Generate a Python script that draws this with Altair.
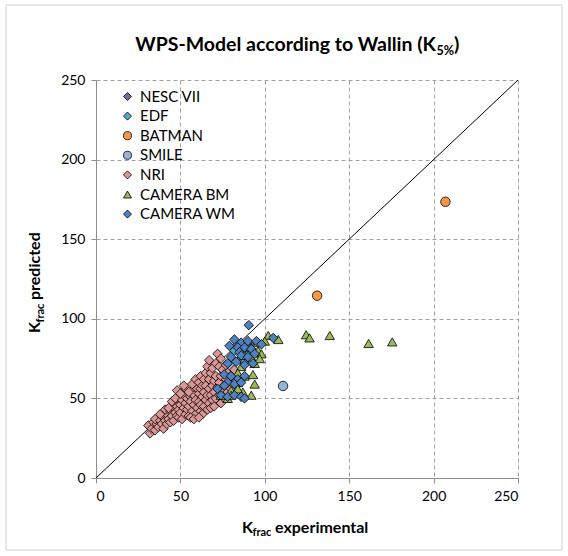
import altair as alt
import pandas as pd

# ---------------- data ----------------
series = ["NESC VII", "EDF", "BATMAN", "SMILE", "NRI", "CAMERA BM", "CAMERA WM"]
colors = ["#8064A2", "#4BACC6", "#F79646", "#95B3D7", "#D99694", "#9BBB59", "#4F81BD"]
shapes = ["diamond", "diamond", "circle", "circle", "diamond", "triangle-up", "diamond"]

nesc_x = [86, 91]
nesc_y = [79, 84]

edf_x = [82, 86, 88, 90, 84]
edf_y = [80, 75, 73, 78, 84]

batman_x = [131, 207]
batman_y = [114.5, 173.5]

smile_x = [110.8, 80]
smile_y = [57.8, 70]

nri_x = [31, 32, 33, 34, 35, 36, 35,
         37, 38, 39, 40, 40, 41, 42, 42, 38, 41,
         43, 44, 44, 45, 46, 46, 47, 47, 48, 48, 45, 43, 48, 47,
         49, 49, 50, 50, 51, 51, 52, 52, 53, 53, 53, 54, 54, 50, 52,
         55, 55, 56, 56, 57, 57, 57, 58, 58, 59, 59, 59, 60, 60, 55, 56, 58,
         61, 61, 61, 62, 62, 62, 62, 63, 63, 63, 64, 64, 64, 65, 65, 65, 66, 66, 66, 61,
         67, 67, 67, 67, 68, 68, 68, 69, 69, 69, 70, 70, 70, 71, 71, 71, 72, 72,
         73, 73, 73, 74, 74, 74, 75, 75, 76, 76, 77, 77, 78, 78, 79, 80, 80, 82, 83]
nri_y = [33, 28, 31, 35, 30, 34, 37,
         32, 36, 34, 38, 31, 36, 40, 34, 40, 43,
         37, 42, 35, 39, 44, 36, 41, 47, 39, 45, 48, 44, 55, 50,
         43, 38, 46, 41, 49, 37, 44, 52, 40, 47, 56, 43, 50, 53, 58,
         45, 39, 51, 48, 42, 55, 59, 46, 52, 40, 49, 62, 44, 56, 54, 38, 37,
         48, 53, 60, 42, 46, 56, 64, 51, 58, 40, 45, 62, 54, 49, 66, 58, 43, 52, 70, 38,
         47, 56, 62, 74, 44, 52, 66, 58, 49, 69, 54, 61, 45, 64, 50, 72, 78, 57,
         60, 52, 70, 75, 47, 64, 55, 68, 58, 50, 62, 71, 54, 66, 60, 64, 56, 68, 58]

bm_x = [102, 108, 124.5, 126.5, 138.5, 161.5, 175.5,
        96, 100, 92, 96, 98, 88, 92, 94, 97, 86, 84, 88, 93, 94, 84, 80, 87, 92, 78, 74, 80, 84]
bm_y = [89.5, 87, 90, 88, 89.5, 84.5, 85.5,
        85, 86, 82, 80, 78, 77, 76, 72, 75, 70, 66, 64, 65, 59, 60, 55, 54, 52, 50, 52, 52, 56]

wm_x = [90.5, 82, 86, 90, 95, 79, 84, 88, 92, 85, 80, 86, 90, 94, 78, 83, 88, 93,
        76, 80, 84, 88, 78, 82, 86, 74, 78, 82, 86, 88, 105, 98, 72, 76]
wm_y = [96, 87, 85, 86, 86, 83, 82, 82, 81, 79, 76, 77, 76, 78, 72, 73, 71, 72,
        65, 64, 62, 64, 60, 59, 60, 52, 51, 52, 51, 50, 88, 84, 56, 58]

diag_x = [0, 250]
diag_y = [0, 250]

ticks = [0, 50, 100, 150, 200, 250]

# ---------------- table ----------------
rows = []
for name, xs, ys in [("NESC VII", nesc_x, nesc_y), ("EDF", edf_x, edf_y),
                     ("BATMAN", batman_x, batman_y), ("SMILE", smile_x, smile_y),
                     ("NRI", nri_x, nri_y), ("CAMERA BM", bm_x, bm_y),
                     ("CAMERA WM", wm_x, wm_y)]:
    for xv, yv in zip(xs, ys):
        rows.append({"series": name, "x": xv, "y": yv})
pts = pd.DataFrame(rows)
diag = pd.DataFrame({"x": diag_x, "y": diag_y})

FONT = "Lato"
W, H = 422, 398

xscale = alt.Scale(domain=[0, 250], nice=False)
yscale = alt.Scale(domain=[0, 250], nice=False)

axis_common = dict(values=ticks, title=None, grid=True, gridDash=[4, 3],
                   gridColor="#A0A0A0", gridWidth=1, domainColor="#8C8C8C",
                   tickColor="#8C8C8C", tickSize=5, labelFont=FONT,
                   labelFontSize=14, labelColor="#000000")

border = alt.Chart(pd.DataFrame({"a": [0]})).mark_rect(
    fill=None, stroke="#D0D0D0", strokeWidth=1
).encode(x=alt.value(-90), x2=alt.value(466), y=alt.value(-75), y2=alt.value(470))

line = alt.Chart(diag).mark_line(color="black", strokeWidth=1).encode(
    x=alt.X("x:Q", scale=xscale, axis=alt.Axis(labelPadding=6, **axis_common)),
    y=alt.Y("y:Q", scale=yscale, axis=alt.Axis(labelPadding=6, **axis_common)),
)

points = alt.Chart(pts).mark_point(
    filled=True, stroke="black", strokeWidth=0.8, opacity=1, size=90
).encode(
    x=alt.X("x:Q", scale=xscale),
    y=alt.Y("y:Q", scale=yscale),
    color=alt.Color("series:N", scale=alt.Scale(domain=series, range=colors),
                    legend=alt.Legend(title=None, orient="none", legendX=24, legendY=9,
                                      labelFont=FONT, labelFontSize=15, labelColor="#000000",
                                      symbolStrokeColor="black", symbolStrokeWidth=0.8,
                                      symbolSize=65, rowPadding=3.6, labelOffset=5,
                                      padding=0)),
    shape=alt.Shape("series:N", scale=alt.Scale(domain=series, range=shapes)),
)

def txt(s, x, y, size, bold=True, align="left", angle=0):
    kw = dict(font=FONT, fontSize=size, fontWeight="bold" if bold else "normal",
              align=align, baseline="alphabetic", color="black")
    if angle:
        kw["angle"] = angle
    return alt.Chart(pd.DataFrame({"t": [s]})).mark_text(**kw).encode(
        text="t:N", x=alt.value(x), y=alt.value(y))

title_main = txt("WPS-Model according to Wallin (K", 340, -29, 19.5, align="right")
title_sub = txt("5%", 340.5, -25, 12.5)
title_end = txt(")", 358, -29, 19.5)

xt1 = txt("K", 146, 453, 16)
xt2 = txt("frac", 156.5, 456, 11)
xt3 = txt("experimental", 179, 453, 16)

yt1 = txt("K", -56, 253, 16, angle=270)
yt2 = txt("frac", -52.5, 242.5, 11, angle=270)
yt3 = txt("predicted", -56, 220, 16, angle=270)

chart = alt.layer(
    border, line, points, title_main, title_sub, title_end,
    xt1, xt2, xt3, yt1, yt2, yt3
).properties(
    width=W, height=H,
    autosize=alt.AutoSizeParams(type="none"),
    padding={"left": 96, "top": 80, "right": 568 - 96 - W, "bottom": 556 - 80 - H},
    background="white",
).configure_view(stroke=None)

chart.save("out.html", embed_options={"renderer": "svg", "actions": False})
